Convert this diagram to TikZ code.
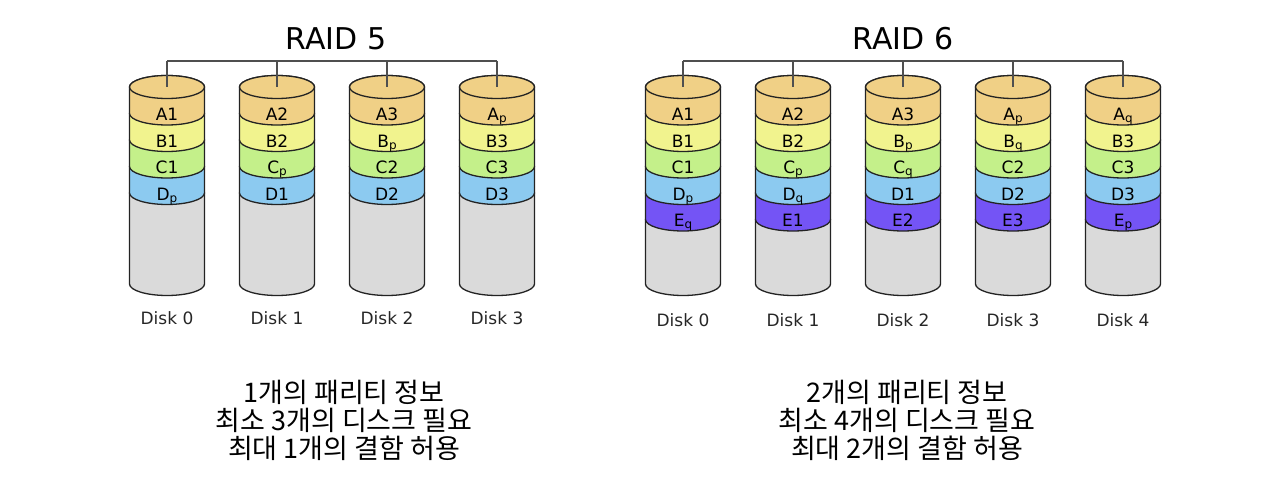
\documentclass[tikz,border=0pt]{standalone}
\usepackage{fontspec}
\setmainfont{DejaVu Sans}
\newfontfamily\kor{Noto Sans CJK KR}

\definecolor{bandA}{RGB}{240,208,134}
\definecolor{bandB}{RGB}{241,243,142}
\definecolor{bandC}{RGB}{196,240,138}
\definecolor{bandD}{RGB}{140,202,240}
\definecolor{bandE}{RGB}{116,84,245}
\definecolor{bandX}{RGB}{218,218,218}
\definecolor{edge}{RGB}{35,35,35}

% small lowered index for parity blocks
\newcommand{\pq}[1]{\raisebox{-2pt}{\fontsize{12}{12}\selectfont #1}}
% one slab of a disk: x, top centre y, bottom centre y, colour
\newcommand{\slab}[4]{%
  \filldraw[fill=#4, draw=edge, line width=1.3pt]
    (#1-\rx,#2) -- (#1-\rx,#3) arc[start angle=180, end angle=360, x radius=\rx pt, y radius=\ry pt]
    -- (#1+\rx,#2) arc[start angle=0, end angle=180, x radius=\rx pt, y radius=\ry pt] -- cycle;}

\begin{document}
\begin{tikzpicture}[x=1pt, y=1pt,
    lbl/.style={font=\fontsize{17}{18}\selectfont, anchor=base, inner sep=0pt},
    disklbl/.style={font=\fontsize{17}{20}\selectfont, anchor=base, inner sep=0pt, text=black!85},
    title/.style={font=\fontsize{30}{34}\selectfont, anchor=base, inner sep=0pt},
    note/.style={font=\kor\fontsize{27}{30}\selectfont, anchor=base, inner sep=0pt},
    bus/.style={draw=edge!80, line width=1.4pt}]
  \useasboundingbox (0,0) rectangle (1280,-487);
  \pgfmathsetmacro{\rx}{37.5}
  \pgfmathsetmacro{\ry}{11.5}
  \pgfmathsetmacro{\h}{26.5}
  \pgfmathsetmacro{\ylid}{-87}
  \pgfmathsetmacro{\ybot}{-284}

  % ---------- RAID 5 ----------
  \node[title] (r5title) at (336,-49.5) {RAID 5};
  \foreach \x/\a/\b/\c/\d [count=\i from 0] in
      {167/A1/B1/C1/D\pq{p}, 277/A2/B2/C\pq{p}/D1, 387/A3/B\pq{p}/C2/D2, 497/A\pq{p}/B3/C3/D3} {
    \slab{\x}{\ylid-4*\h}{\ybot}{bandX}
    \slab{\x}{\ylid-3*\h}{\ylid-4*\h}{bandD}
    \slab{\x}{\ylid-2*\h}{\ylid-3*\h}{bandC}
    \slab{\x}{\ylid-\h}{\ylid-2*\h}{bandB}
    \slab{\x}{\ylid}{\ylid-\h}{bandA}
    \filldraw[fill=bandA, draw=edge, line width=1.3pt] (\x,\ylid) ellipse[x radius=\rx pt, y radius=\ry pt];
    \coordinate (r5top\i) at (\x,\ylid);
    \coordinate (r5bus\i) at (\x,-61);
    \draw[bus] (r5bus\i) -- (r5top\i);
    \node[lbl] (r5a\i) at (\x,-120.5) {\a};
    \node[lbl] (r5b\i) at (\x,-120.5-\h) {\b};
    \node[lbl] (r5c\i) at (\x,-120.5-2*\h) {\c};
    \node[lbl] (r5d\i) at (\x,-120.5-3*\h) {\d};
    \node[disklbl] (r5disk\i) at (\x,-324.5) {Disk \i};
  }
  \draw[bus] (r5bus0) -- (r5bus3);

  \node[note] (r5note1) at (344,-402) {1개의 패리티 정보};
  \node[note] (r5note2) at (344,-430) {최소 3개의 디스크 필요};
  \node[note] (r5note3) at (344,-458) {최대 1개의 결함 허용};

  % ---------- RAID 6 ----------
  \node[title] (r6title) at (903,-50) {RAID 6};
  \foreach \x/\a/\b/\c/\d/\e [count=\i from 0] in
      {683/A1/B1/C1/D\pq{p}/E\pq{q}, 793/A2/B2/C\pq{p}/D\pq{q}/E1, 903/A3/B\pq{p}/C\pq{q}/D1/E2,
       1013/A\pq{p}/B\pq{q}/C2/D2/E3, 1123/A\pq{q}/B3/C3/D3/E\pq{p}} {
    \slab{\x}{\ylid-5*\h}{\ybot}{bandX}
    \slab{\x}{\ylid-4*\h}{\ylid-5*\h}{bandE}
    \slab{\x}{\ylid-3*\h}{\ylid-4*\h}{bandD}
    \slab{\x}{\ylid-2*\h}{\ylid-3*\h}{bandC}
    \slab{\x}{\ylid-\h}{\ylid-2*\h}{bandB}
    \slab{\x}{\ylid}{\ylid-\h}{bandA}
    \filldraw[fill=bandA, draw=edge, line width=1.3pt] (\x,\ylid) ellipse[x radius=\rx pt, y radius=\ry pt];
    \coordinate (r6top\i) at (\x,\ylid);
    \coordinate (r6bus\i) at (\x,-61);
    \draw[bus] (r6bus\i) -- (r6top\i);
    \node[lbl] (r6a\i) at (\x,-120.5) {\a};
    \node[lbl] (r6b\i) at (\x,-120.5-\h) {\b};
    \node[lbl] (r6c\i) at (\x,-120.5-2*\h) {\c};
    \node[lbl] (r6d\i) at (\x,-120.5-3*\h) {\d};
    \node[lbl] (r6e\i) at (\x,-120.5-4*\h) {\e};
    \node[disklbl] (r6disk\i) at (\x,-326.5) {Disk \i};
  }
  \draw[bus] (r6bus0) -- (r6bus4);

  \node[note] (r6note1) at (907,-402) {2개의 패리티 정보};
  \node[note] (r6note2) at (907,-430) {최소 4개의 디스크 필요};
  \node[note] (r6note3) at (907,-458) {최대 2개의 결함 허용};
\end{tikzpicture}
\end{document}
